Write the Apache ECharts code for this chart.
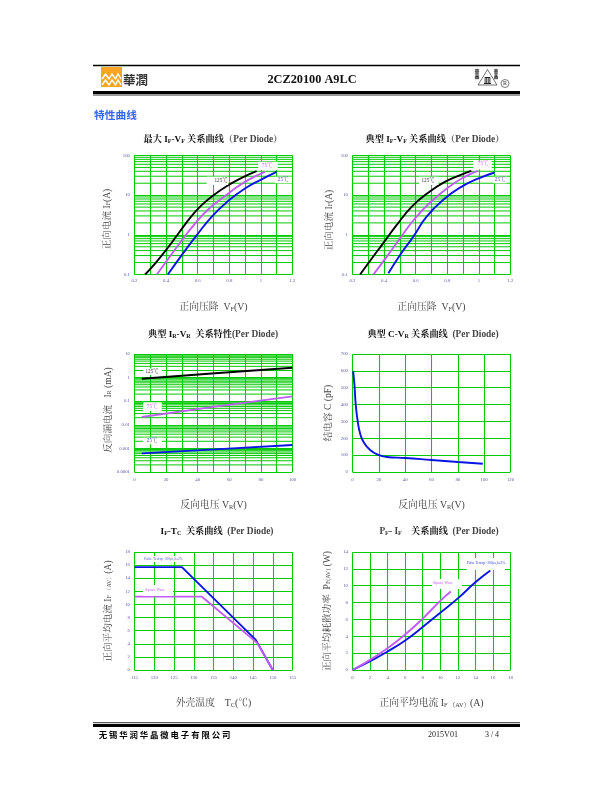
<!DOCTYPE html>
<html><head><meta charset="utf-8">
<style>html,body{margin:0;padding:0;background:#fff}#c{width:612px;height:792px}</style>
<script src="https://cdn.jsdelivr.net/npm/echarts@6/dist/echarts.min.js"></script>
</head><body><div id="c"></div>
<script>
// ---- data ----
const maxVf125 = [[0.267,0.1],[0.33,0.189],[0.404,0.435],[0.478,1.08],[0.562,3.0],[0.625,5.6],[0.70,10],[0.794,17.9],[0.878,27.4],[0.973,40.3]];
const maxVf75  = [[0.341,0.1],[0.415,0.253],[0.499,0.72],[0.583,1.93],[0.678,4.8],[0.794,11],[0.899,21.7],[1.025,38.7]];
const maxVf25  = [[0.411,0.1],[0.499,0.307],[0.594,0.98],[0.688,2.84],[0.794,7.2],[0.899,14.7],[1.004,25],[1.099,38.7]];
const typVf125 = [[0.248,0.1],[0.322,0.253],[0.395,0.62],[0.479,1.75],[0.574,5.08],[0.679,11.5],[0.784,21.7],[0.889,33],[0.952,41]];
const typVf75  = [[0.332,0.1],[0.416,0.279],[0.5,0.81],[0.595,2.58],[0.689,6.4],[0.805,15.6],[0.91,29],[0.994,41]];
const typVf25  = [[0.427,0.107],[0.5,0.307],[0.584,0.89],[0.668,2.84],[0.784,8.2],[0.889,16.2],[0.994,26],[1.099,37.3]];
const ir125 = [[4.6,0.9],[51,1.52],[100,2.63]];
const ir75  = [[4.6,0.0214],[51,0.0586],[100,0.161]];
const ir25  = [[4.6,0.000618],[51,0.00091],[100,0.00139]];
const capVr = [[0.5,597],[1.5,515],[2.5,396],[4,298],[5.8,229],[8.3,179],[13.4,130],[19.7,101],[26,89],[40,83],[60,71],[80,59],[99,49]];
const ifPulse  = [[115,15.7],[127,15.7],[145.7,4.6],[150,0]];
const ifSquare = [[115,11.2],[132,11.2],[146.1,4.1],[150,0]];
const pfPulse  = [[0,0],[2,1.05],[4,2.2],[6,3.5],[8,5.1],[10,6.8],[12,8.5],[14,10.4],[15.7,11.8]];
const pfSquare = [[0,0],[2,1.2],[4,2.6],[6,4.2],[8,6.1],[10,8.2],[11.2,9.3]];
const vfTicks = [0.2,0.4,0.6,0.8,1,1.2];
const vrTicks = [0,20,40,60,80,100];
const ifDecades = [0.1,1,10];
const irDecades = [0.0001,0.001,0.01,0.1,1];
const irTickLabels = ['0.0001','0.001','0.01','0.1','1','10'];
const minorSteps = [2,3,4,5,6,7,8,9];

// ---- style ----
const SERIF = '"Liberation Serif","Noto Serif CJK SC","Noto Sans CJK SC",serif';
const CJK = '"Noto Sans CJK SC",sans-serif';
const GREEN = '#06c906', TICK = '#5a5aa8', BLUE = '#0a14e6', MAG = '#c25cf5', BLK = '#000';
const lab = {fontSize:4.8,color:TICK,fontFamily:SERIF};

const grids = [
 {left:134.5,top:155.5,width:158,height:119},
 {left:352.5,top:155.5,width:158,height:119},
 {left:134.5,top:354,width:158,height:118},
 {left:352.5,top:354,width:158,height:118},
 {left:134.5,top:552,width:158,height:118},
 {left:352.5,top:552,width:158,height:118}
];
const rich = {
 a:{fontFamily:SERIF,fontSize:9.8,color:'#444'},
 s:{fontFamily:SERIF,fontSize:6.3,color:'#444',verticalAlign:'bottom',padding:[3,0,0,0]},
 b:{fontFamily:SERIF,fontSize:9.2,fontWeight:'bold',color:'#111'},
 t:{fontFamily:SERIF,fontSize:6,fontWeight:'bold',color:'#111',padding:[3,0,0,0]},
 n:{fontFamily:SERIF,fontSize:9.4,color:'#444'}
};
const richY = Object.assign({},rich,{
 a:{fontFamily:SERIF,fontSize:9.6,color:'#444'},
 s:{fontFamily:SERIF,fontSize:6,color:'#444',padding:[3,0,0,0]}
});
function xa(i,o,name,gap,labels,margin){
  return Object.assign({type:'value',gridIndex:i,name:name,nameLocation:'middle',nameGap:gap,
    nameTextStyle:{rich:rich,fontFamily:SERIF,fontSize:10,color:'#333'},
    axisLine:{show:false},axisTick:{show:false},
    splitLine:{show:true,lineStyle:{color:GREEN,width:1.1}},
    axisLabel:Object.assign({margin:margin,showMinLabel:true,showMaxLabel:true,hideOverlap:false,
      formatter:v=>labels?(labels.some(t=>Math.abs(t-v)<1e-6)?String(+v.toFixed(1)):''):String(v)},lab)},o);
}
function ya(i,o,name,gap,pad,fmt){
  const al=Object.assign({margin:4.5,showMinLabel:true,showMaxLabel:true},lab);
  if(fmt) al.formatter=fmt;
  return Object.assign({gridIndex:i,name:name,nameLocation:'middle',nameGap:gap,nameRotate:90,
    nameTextStyle:{rich:richY,fontFamily:SERIF,fontSize:9.6,color:'#444',padding:pad||0},
    axisLine:{show:false},axisTick:{show:false},
    splitLine:{show:true,lineStyle:{color:GREEN,width:1.1}},
    axisLabel:al},o);
}
function curve(i,name,data,color,smooth,w){
  return {type:'line',name:name,xAxisIndex:i,yAxisIndex:i,data:data,smooth:smooth?0.5:false,showSymbol:false,symbol:'none',
    clip:true,z:5,animation:false,lineStyle:{color:color,width:w||1.9}};
}
function minorGrid(i,decades,x0,x1){
  const out=[];
  decades.forEach(d=>minorSteps.forEach(s=>{
    const v=+(d*s).toPrecision(3);
    out.push({type:'line',xAxisIndex:i,yAxisIndex:i,data:[[x0,v],[x1,v]],z:2,silent:true,animation:false,
      showSymbol:false,symbol:'none',clip:false,lineStyle:{color:GREEN,width:1}});
  }));
  return out;
}
function ttl(text,x,y){return {text:text,left:x,top:y-4,textAlign:'center',textStyle:{rich:rich,fontSize:9.5},padding:0};}
function tag(text,tx,ty,color,x0,y0,x1,y1,fs){
  return [
   {type:'rect',z:50,shape:{x:x0,y:y0,width:x1-x0,height:y1-y0},style:{fill:'#fff'}},
   {type:'text',z:51,x:tx,y:ty,style:{text:text,fill:color,fontFamily:SERIF,fontSize:fs||5.2,align:'center',verticalAlign:'middle'}}
  ];
}
function rule(x1,y1,x2,y2,w){return {type:'line',z:60,shape:{x1,y1,x2,y2},style:{stroke:'#000',lineWidth:w}};}
function txt(text,x,y,o){return {type:'text',z:60,x:x,y:y,style:Object.assign({text:text,fill:'#111',fontFamily:SERIF,fontSize:8,align:'center',verticalAlign:'middle'},o||{})};}

const vfAxis={min:0.2,max:1.2,interval:0.1};
const logVf={type:'log',logBase:10,min:0.1,max:100,interval:1};
const option={animation:false,backgroundColor:'#fff',
 title:[
  ttl('{b|最大 I}{t|F}{b|-V}{t|F}{b| 关系曲线}{n|（Per Diode）}',213,139),
  ttl('{b|典型 I}{t|F}{b|-V}{t|F}{b| 关系曲线}{n|（Per Diode）}',435,139),
  ttl('{b|典型 I}{t|R}{b|-V}{t|R}{b|  关系特性}{n|(Per Diode)}',213,334),
  ttl('{b|典型 C-V}{t|R}{b| 关系曲线}{n|  (Per Diode)}',433,334),
  ttl('{b|I}{t|F}{b|-T}{t|C}{b|  关系曲线}{n|  (Per Diode)}',217,531),
  ttl('{n|P}{s|F}{n|- I}{s|F}{b|    关系曲线}{n|  (Per Diode)}',439,531)
 ],
 grid:grids.map(g=>Object.assign({containLabel:false,show:false},g)),
 xAxis:[
  xa(0,vfAxis,'{a|正向压降  V}{s|F}{a|(V)}',28,vfTicks,4),
  xa(1,vfAxis,'{a|正向压降  V}{s|F}{a|(V)}',28,vfTicks,4),
  xa(2,{min:0,max:100,interval:10},'{a|反向电压 V}{s|R}{a|(V)}',29,vrTicks,5.5),
  xa(3,{min:0,max:120,interval:20},'{a|反向电压 V}{s|R}{a|(V)}',29,null,5.5),
  xa(4,{min:115,max:155,interval:5},'{a|外壳温度    T}{s|C}{a|(℃)}',29,null,5.5),
  xa(5,{min:0,max:18,interval:2},'{a|正向平均电流 I}{s|F （AV）}{a|(A)}',29,null,5.5)
 ],
 yAxis:[
  ya(0,logVf,'{a|正向电流 I}{s|F}{a|(A)}',22.5,[0,8,0,0]),
  ya(1,logVf,'{a|正向电流 I}{s|F}{a|(A)}',18.5,[0,10,0,0]),
  ya(2,{type:'log',logBase:10,min:0.0001,max:10,interval:1},'{a|反向漏电流   I}{s|R}{a| (mA)}',21.5,[0,0,0,6],
     v=>irTickLabels[Math.round(Math.log10(v))+4]),
  ya(3,{type:'value',min:0,max:700,interval:100},'{a|结电容 C (pF)}',19.5),
  ya(4,{type:'value',min:0,max:18,interval:2},'{a|正向平均电流 I}{s|F （AV）}{a|(A)}',21.5),
  ya(5,{type:'value',min:0,max:14,interval:2},'{a|正向平均耗散功率  P}{s|F(AV)}{a| (W)}',20.5)
 ],
 series:[
  ...minorGrid(0,ifDecades,0.2,1.2),curve(0,'125℃',maxVf125,BLK,1),curve(0,'75℃',maxVf75,MAG,1),curve(0,'25℃',maxVf25,BLUE,1),
  ...minorGrid(1,ifDecades,0.2,1.2),curve(1,'125℃',typVf125,BLK,1),curve(1,'75℃',typVf75,MAG,1),curve(1,'25℃',typVf25,BLUE,1),
  ...minorGrid(2,irDecades,0,100),curve(2,'125℃',ir125,BLK,1),curve(2,'75℃',ir75,MAG,1),curve(2,'25℃',ir25,BLUE,1),
  curve(3,'C',capVr,BLUE,1),
  curve(4,'Pulse',ifPulse,BLUE,0),curve(4,'Square',ifSquare,MAG,0),
  curve(5,'Pulse',pfPulse,BLUE,1),curve(5,'Square',pfSquare,MAG,1)
 ],
 graphic:{elements:[
  rule(93,65.5,520,65.5,1.3), rule(93,92.5,520,92.5,3), rule(93,95,520,95,0.8),
  rule(93,722.7,520,722.7,0.8), rule(93,725.5,520,725.5,3),
  // logo left
  {type:'rect',z:60,shape:{x:101,y:67,width:21,height:20},style:{fill:'#f6a623'}},
  {type:'polyline',z:61,shape:{points:[[102,79],[105.5,74],[109,79],[112,74],[115.5,79],[118,74],[121,79]]},style:{stroke:'#fff',fill:null,lineWidth:1.4}},
  {type:'polyline',z:61,shape:{points:[[102,85],[105.5,80],[109,85],[112,80],[115.5,85],[118,80],[121,85]]},style:{stroke:'#fff',fill:null,lineWidth:1.4}},
  txt('華潤',135.5,80.5,{fontFamily:'"Noto Sans CJK TC",sans-serif',fontSize:12.5,fontWeight:'bold',fill:'#333'}),
  txt('2CZ20100 A9LC',312,80,{fontWeight:'bold',fontSize:12.3,fill:'#111'}),
  // logo right
  {type:'polygon',z:60,shape:{points:[[487.5,69.5],[497,85],[478,85]]},style:{stroke:'#333',fill:null,lineWidth:0.7}},
  txt('皿',487.5,80.5,{fontFamily:CJK,fontSize:7.5,fontWeight:'bold',fill:'#222'}),
  txt('華',477,71.5,{fontFamily:CJK,fontSize:5,fontWeight:'bold',fill:'#222'}),
  txt('晶',477,76.5,{fontFamily:CJK,fontSize:5,fontWeight:'bold',fill:'#222'}),
  txt('華',496,71.5,{fontFamily:CJK,fontSize:4.5,fontWeight:'bold',fill:'#222'}),
  txt('晶',496,76.5,{fontFamily:CJK,fontSize:4.5,fontWeight:'bold',fill:'#222'}),
  {type:'circle',z:60,shape:{cx:505,cy:83.5,r:4},style:{stroke:'#444',fill:null,lineWidth:0.7}},
  txt('R',505,83.7,{fontSize:6,fill:'#333'}),
  txt('特性曲线',115.5,114.5,{fontFamily:CJK,fontSize:10.7,fontWeight:'bold',fill:'#3366f5'}),
  // curve tags
  ...tag('125℃',221,181,'#333',206.7,176.7,228.3,185),...tag('75℃',267,166,MAG,258.3,161.7,277.7,170),...tag('25℃',283,180,'#4a4ab0',275,176.7,291.7,183.3),
  ...tag('125℃',428,181,'#333',419,176.7,438.3,185),...tag('75℃',483,164,MAG,473.3,160.7,491.7,169.3),...tag('25℃',500,180,'#4a4ab0',493.3,176.7,506.7,183.3),
  ...tag('125℃',152,372,'#333',143.3,368.3,161.7,375),...tag('75℃',152,407,MAG,143.3,402.3,161.7,411),...tag('25℃',152,441,'#4a4ab0',143.3,437.7,161.7,444.3),
  ...tag('Pulse Test:tp=300μs,δ≤2%',163.5,559,'#5a5ae0',141,556,186,562,3.6),...tag('Square Wave',155,590,MAG,143,585,173,596,3.8),
  ...tag('Pulse Test:tp=300μs,δ≤2%',486,563,'#3a3ad8',466.7,558,505,570,3.6),...tag('Square Wave',443,583,MAG,432,579,462,589,3.8),
  // footer
  txt('无 锡 华 润 华 晶 微 电 子 有 限 公 司',164.5,735,{fontFamily:CJK,fontSize:8.4,fontWeight:'bold',fill:'#000'}),
  txt('2015V01',443,735,{fontSize:8,fill:'#222'}),
  txt('3 / 4',492,735,{fontSize:8,fill:'#222'})
 ]}
};
const chart=echarts.init(document.getElementById('c'),null,{renderer:'canvas',width:612,height:792});
chart.setOption(option);
</script></body></html>
